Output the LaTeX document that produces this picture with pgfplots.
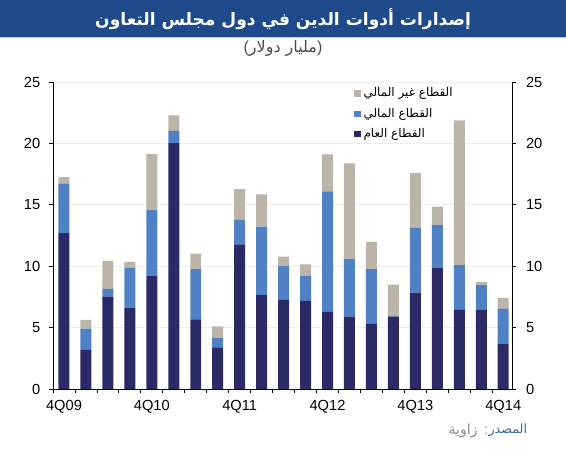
\documentclass[border=0pt]{standalone}
\usepackage{fontspec}
\usepackage{pgfplots}
\usepackage{pgfplotstable}
\pgfplotsset{compat=1.18}
\setmainfont{Liberation Sans}
\newfontfamily\arabicfont[Script=Arabic]{DejaVu Sans}
\TeXXeTstate=1
\definecolor{pubc}{HTML}{2B2A66}
\definecolor{finc}{HTML}{4F81C4}
\definecolor{nonc}{HTML}{BBB5A9}
\definecolor{titlebg}{HTML}{1E4A8C}
\definecolor{srcblue}{HTML}{3A64A8}
\pgfplotstableread{
x pub fin non
0 12.69 4.02 0.55
1 3.18 1.74 0.71
2 7.53 0.62 2.28
3 6.63 3.23 0.49
4 9.24 5.33 4.56
5 20.03 1.00 1.25
6 5.68 4.08 1.27
7 3.40 0.78 0.93
8 11.77 2.01 2.50
9 7.64 5.59 2.61
10 7.26 2.74 0.79
11 7.17 2.07 0.90
12 6.28 9.81 3.01
13 5.90 4.67 7.80
14 5.30 4.46 2.22
15 5.90 0.08 2.53
16 7.85 5.28 4.48
17 9.84 3.50 1.52
18 6.49 3.59 11.80
19 6.44 2.01 0.27
20 3.70 2.82 0.90
}\datatable
\begin{document}
\begin{tikzpicture}
\useasboundingbox (0,0) rectangle (424.5pt,-337.5pt);
\fill[titlebg] (0,0) rectangle (424.5pt,-27.75pt);
\fill[finc!40] (0,-27.75pt) rectangle (424.5pt,-28.5pt);
\node[text=white,inner sep=0pt] at (212.25pt,-14pt)
  {\arabicfont\bfseries\fontsize{12.8}{15}\selectfont\beginR إصدارات أدوات الدين في دول مجلس التعاون\endR};
\node[text=black!70,inner sep=0pt] at (212.25pt,-36.5pt)
  {\fontsize{12}{14}\selectfont ({\arabicfont\beginR مليار دولار\endR})};
\begin{axis}[
  at={(39.75pt,-291.75pt)}, anchor=south west,
  scale only axis, width=344.25pt, height=230.25pt,
  ybar stacked, bar width=0.5,
  xmin=-0.5, xmax=20.4, ymin=0, ymax=25,
  axis x line*=bottom, axis y line*=left,
  axis line style={black, line width=0.6pt},
  ytick={0,5,...,25},
  ymajorgrids, grid style={black!7, line width=0.5pt},
  xtick={-0.5,0.5,...,19.5}, xticklabels={},
  extra x ticks={0,4,8,12,16,20},
  extra x tick labels={4Q09,4Q10,4Q11,4Q12,4Q13,4Q14},
  extra x tick style={major tick length=0pt, grid=none,
     xticklabel style={yshift=-5pt}},
  tick align=outside, major tick length=3pt,
  tick style={black, line width=0.6pt},
  tick label style={font=\fontsize{11}{13}\selectfont},
  yticklabel style={xshift=-3pt},
  /pgf/number format/assume math mode=true,
  legend style={at={(0.88,0.995)}, anchor=north east, draw=none, fill=none,
    font=\arabicfont\fontsize{9}{11}\selectfont, row sep=3pt, inner sep=1pt},
  legend cell align=left,
  reverse legend,
  legend image code/.code={\fill[#1,draw=none] (0.6pt,-2.4pt) rectangle (5.4pt,2.4pt);},
]
\addplot[fill=pubc, draw=none] table[x=x,y=pub] {\datatable};
\addlegendentry{\beginR القطاع العام\endR}
\addplot[fill=finc, draw=none] table[x=x,y=fin] {\datatable};
\addlegendentry{\beginR القطاع المالي\endR}
\addplot[fill=nonc, draw=none] table[x=x,y=non] {\datatable};
\addlegendentry{\beginR القطاع غير المالي\endR}
\end{axis}
\begin{axis}[
  at={(39.75pt,-291.75pt)}, anchor=south west,
  scale only axis, width=344.25pt, height=230.25pt,
  xmin=-0.5, xmax=20.4, ymin=0, ymax=25,
  axis y line*=right, axis x line=none,
  axis line style={black, line width=0.6pt},
  ytick={0,5,...,25},
  tick align=outside, major tick length=3pt,
  tick style={black, line width=0.6pt},
  tick label style={font=\fontsize{11}{13}\selectfont},
  yticklabel style={xshift=4pt},
  /pgf/number format/assume math mode=true,
]
\addplot[draw=none] coordinates {(0,0)};
\end{axis}
\node[anchor=east,inner sep=0pt,text=srcblue] (src) at (395.5pt,-323pt)
  {\arabicfont\fontsize{9.5}{12}\selectfont\beginR المصدر\endR};
\node[anchor=east,inner sep=0pt,text=black!45] at (src.west)
  {\fontsize{10.5}{12}\selectfont{\arabicfont\beginR زاوية\endR}\hspace{5pt}:};
\end{tikzpicture}
\end{document}
